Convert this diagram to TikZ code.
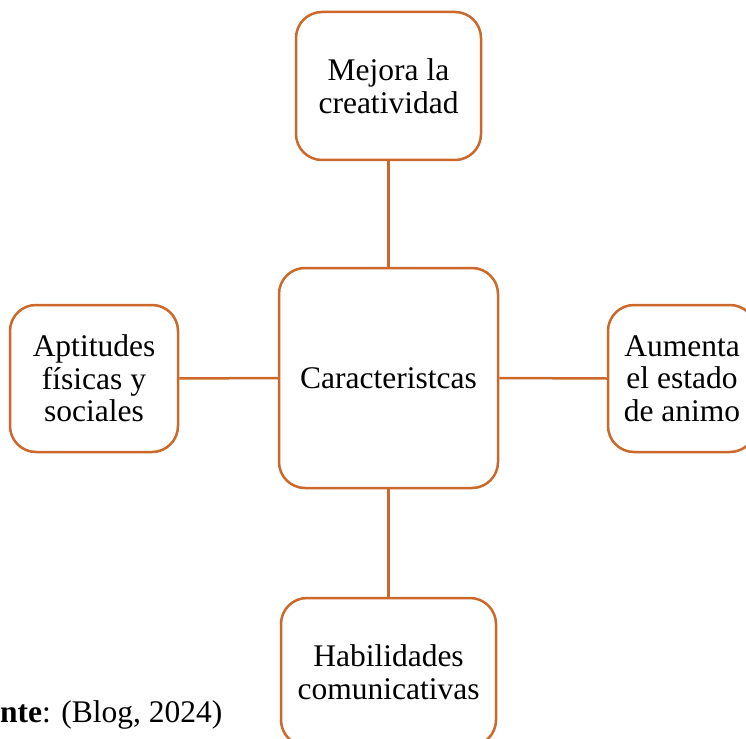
\documentclass[tikz,border=0pt]{standalone}
\usepackage{fontspec}
\setmainfont{Liberation Serif}
\definecolor{boxorange}{RGB}{204,104,42}
\begin{document}
\begin{tikzpicture}[x=1pt,y=-1pt,
  box/.style={draw=boxorange, line width=2.5pt, rounded corners=26pt, fill=white,
    align=center, inner sep=0pt, font=\fontsize{31.5}{32.5}\selectfont},
  link/.style={draw=boxorange, line width=2.5pt}]
\useasboundingbox (0,0) rectangle (746,738);
\node[box, minimum width=185pt, minimum height=148pt] (top) at (388.5,86) {Mejora la\\creatividad};
\node[box, minimum width=219pt, minimum height=220pt] (mid) at (388.5,378) {Caracteristcas};
\node[box, minimum width=168pt, minimum height=147pt] (left) at (94,378.5) {Aptitudes\\físicas y\\sociales};
\node[box, minimum width=148pt, minimum height=147pt] (right) at (682,378.5) {Aumenta\\el estado\\de animo};
\node[box, minimum width=215pt, minimum height=148pt] (bot) at (388.5,672) {Habilidades\\comunicativas};
\draw[link] (top.south) -- (mid.north);
\draw[link] (left.east) -- (mid.west);
\draw[link] (mid.east) -- (right.west);
\draw[link] (mid.south) -- (bot.north);
\node[anchor=base west, inner sep=0pt, font=\fontsize{31.5}{32.5}\selectfont] (src) at (0,722) {\textbf{nte}: (Blog, 2024)};
\end{tikzpicture}
\end{document}
